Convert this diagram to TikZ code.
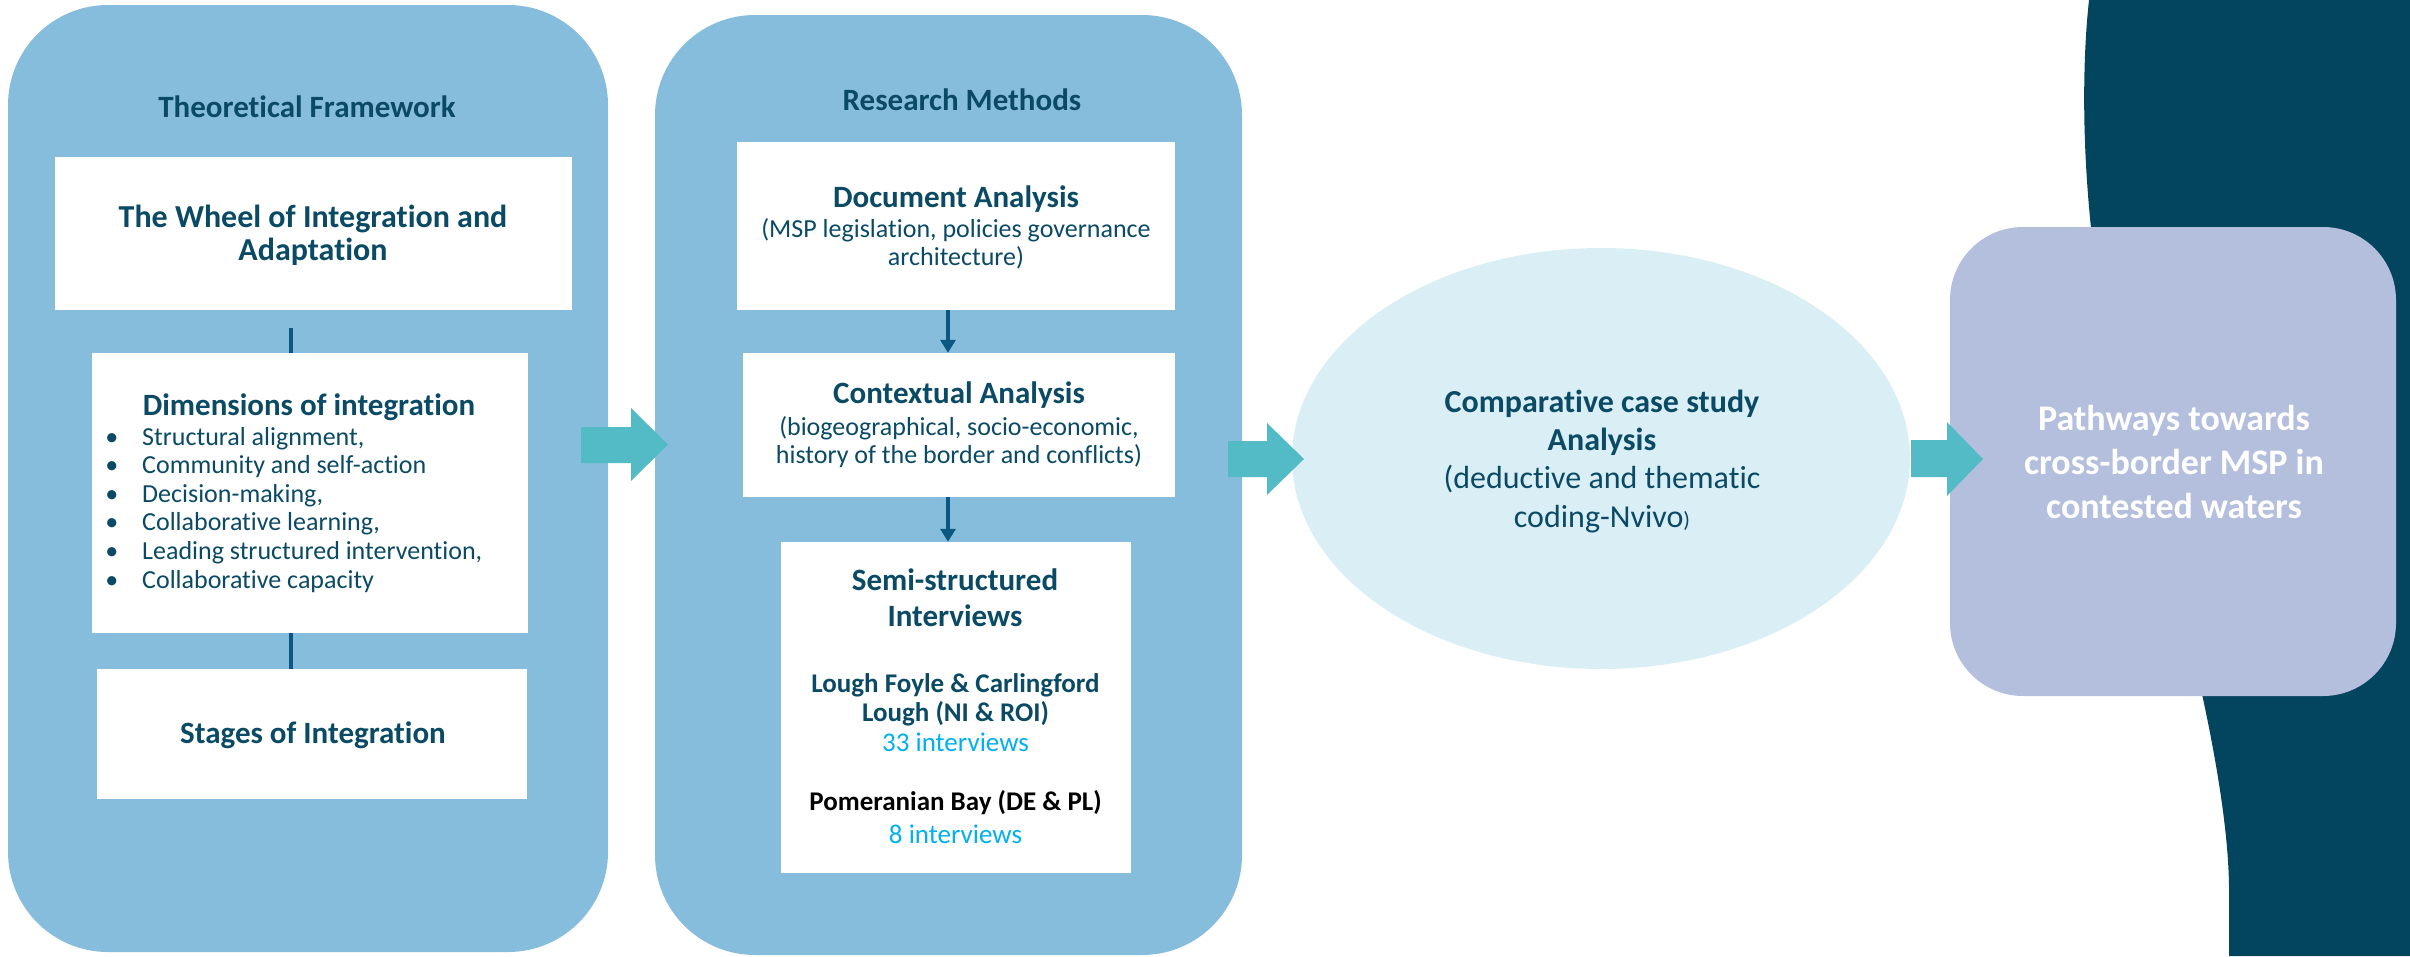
\documentclass[tikz,border=0pt]{standalone}
\usepackage{fontspec}
\setmainfont[Ligatures=NoCommon]{Carlito}
\usetikzlibrary{arrows.meta,shapes.geometric}
\definecolor{panelblue}{HTML}{87BDDC}
\definecolor{txtdark}{HTML}{0A4A64}
\definecolor{connblue}{HTML}{0B5880}
\definecolor{tealarrow}{HTML}{52BBC5}
\definecolor{ellfill}{HTML}{DAEEF6}
\definecolor{pathfill}{HTML}{B4BFDD}
\definecolor{darkshape}{HTML}{03445E}
\definecolor{intblue}{HTML}{00B0F0}
\newcommand\fTitle{\fontsize{31}{36}\selectfont\bfseries}
\newcommand\fHead{\fontsize{31}{36}\selectfont\bfseries}
\newcommand\fBody{\fontsize{26}{28}\selectfont}
\begin{document}
\begin{tikzpicture}[x=1pt,y=-1pt,
  panelbox/.style={fill=panelblue, draw=none, rounded corners=100pt, inner sep=0pt},
  whitebox/.style={fill=white, draw=none, inner sep=0pt},
  txt/.style={text=txtdark, inner sep=0pt, align=center, anchor=base},
  conn/.style={draw=connblue, line width=4pt},
  connarrow/.style={conn, -{Triangle[width=15pt,length=13pt]}},
  bigarrow/.style={fill=tealarrow, draw=none}]
\useasboundingbox (0,0) rectangle (2410,956);

% dark background shape
\fill[darkshape] (2089,0) .. controls (2077,110) and (2085,300) .. (2140,460)
  .. controls (2195,640) and (2229,800) .. (2229,890) -- (2229,956) -- (2410,956) -- (2410,0) -- cycle;

% panels
\node[panelbox, minimum width=600pt, minimum height=947pt] (tf) at (308,478.5) {};
\node[panelbox, minimum width=587pt, minimum height=940pt] (rm) at (948.5,485) {};

% left panel boxes
\node[whitebox, minimum width=517pt, minimum height=153pt] (wheel) at (313.5,233.5) {};
\node[whitebox, minimum width=436pt, minimum height=280pt] (dim) at (310,493) {};
\node[whitebox, minimum width=430pt, minimum height=130pt] (stages) at (312,734) {};

% middle panel boxes
\node[whitebox, minimum width=438pt, minimum height=168pt] (doc) at (956,226) {};
\node[whitebox, minimum width=432pt, minimum height=144pt] (ctx) at (959,425) {};
\node[whitebox, minimum width=350pt, minimum height=331pt] (semi) at (956,707.5) {};

% ellipse
\node[ellipse, fill=ellfill, draw=none, minimum width=618pt, minimum height=421pt, inner sep=0pt] (comp) at (1601,458.5) {};

% pathways box
\node[fill=pathfill, draw=none, rounded corners=73pt, minimum width=446pt, minimum height=469pt, inner sep=0pt] (path) at (2173,461.5) {};

% connectors
\coordinate (lx) at (291,328);
\draw[conn] (lx) -- (lx |- dim.north);
\draw[conn] (dim.south -| lx) -- (stages.north -| lx);
\coordinate (mx) at (948,0);
\draw[connarrow] (doc.south -| mx) -- (ctx.north -| mx);
\draw[connarrow] (ctx.south -| mx) -- (semi.north -| mx);

% big arrows
\fill[bigarrow] (581,427) -- (631,427) -- (631,408) -- (668,444.5) -- (631,481) -- (631,463) -- (581,463) -- cycle;
\fill[bigarrow] (1228,441) -- (1267,441) -- (1267,423) -- (1304,459) -- (1267,495) -- (1267,477) -- (1228,477) -- cycle;
\fill[bigarrow] (1911,440) -- (1947,440) -- (1947,422) -- (1983,459) -- (1947,496) -- (1947,477) -- (1911,477) -- cycle;

% texts left panel (anchor = baseline of last line)
\node[txt, font=\fTitle] (tftitle) at (307,117) {Theoretical Framework};
\node[txt, font=\fontsize{32}{33}\selectfont\bfseries] (wheeltxt) at (313,260) {The Wheel of Integration and\\Adaptation};
\node[txt, font=\fHead] (dimtitle) at (309,415) {Dimensions of integration};
\node[txt, font=\fontsize{26}{28.6}\selectfont, align=left, anchor=base west] (dimlist) at (142,588)
  {\llap{\textbullet\hspace{24pt}}Structural alignment,\\
   \llap{\textbullet\hspace{24pt}}Community and self-action\\
   \llap{\textbullet\hspace{24pt}}Decision-making,\\
   \llap{\textbullet\hspace{24pt}}Collaborative learning,\\
   \llap{\textbullet\hspace{24pt}}Leading structured intervention,\\
   \llap{\textbullet\hspace{24pt}}Collaborative capacity};
\node[txt, font=\fHead] (stagestxt) at (313,743) {Stages of Integration};

% texts middle panel
\node[txt, font=\fTitle] (rmtitle) at (962,110) {Research Methods};
\node[txt, font=\fHead] (doctitle) at (956,207) {Document Analysis};
\node[txt, font=\fBody] (docsub) at (956,265) {(MSP legislation, policies governance\\architecture)};
\node[txt, font=\fHead] (ctxtitle) at (959,403) {Contextual Analysis};
\node[txt, font=\fBody] (ctxsub) at (959,463) {(biogeographical, socio-economic,\\history of the border and conflicts)};
\node[txt, font=\fontsize{31}{36}\selectfont\bfseries] (semititle) at (955,626) {Semi-structured\\Interviews};
\node[txt, font=\fontsize{27}{29.5}\selectfont] (semilf) at (955.5,751) {\textbf{Lough Foyle \& Carlingford}\\\textbf{Lough (NI \& ROI)}\\\textcolor{intblue}{33 interviews}};
\node[txt, font=\fontsize{27}{33}\selectfont] (semipb) at (955.5,843) {\textcolor{black}{\textbf{Pomeranian Bay (DE \& PL)}}\\\textcolor{intblue}{8 interviews}};

% ellipse text
\node[txt, font=\fontsize{32}{38.3}\selectfont] (comptxt) at (1602,527) {\textbf{Comparative case study}\\\textbf{Analysis}\\(deductive and thematic\\coding-Nvivo{\fontsize{22}{38}\selectfont)}};

% pathways text
\node[txt, text=white, font=\fontsize{36}{44}\selectfont\bfseries] (pathtxt) at (2174,518) {Pathways towards\\cross-border MSP in\\contested waters};
\end{tikzpicture}
\end{document}
